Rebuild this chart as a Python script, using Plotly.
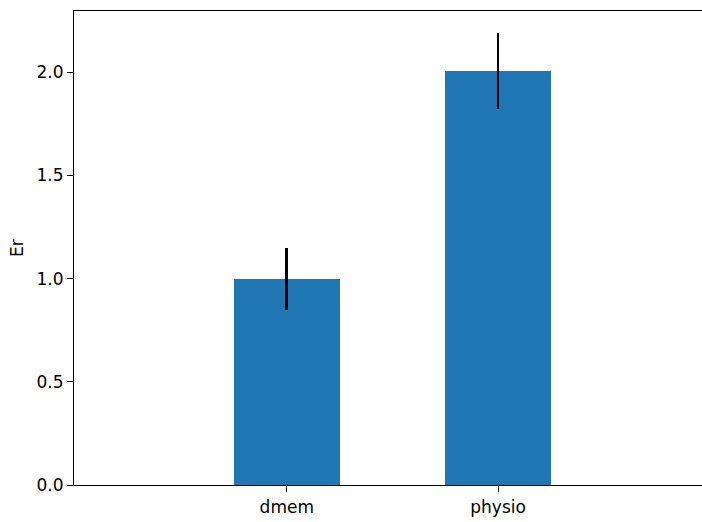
import plotly.graph_objects as go

# Mean Er per medium with its error
categories = ["dmem", "physio"]
er_mean = [1.0, 2.005]
er_err = [0.15, 0.183]
y_ticks = [0.0, 0.5, 1.0, 1.5, 2.0]

positions = list(range(len(categories)))

fig = go.Figure(
    go.Bar(
        x=positions,
        y=er_mean,
        width=0.5,
        marker=dict(color="#1f77b4", line=dict(width=0)),
        error_y=dict(type="data", array=er_err, visible=True,
                     color="black", thickness=2.6, width=0),
    )
)

font = dict(family="DejaVu Sans", size=17, color="black")

fig.update_layout(
    width=702,
    height=522,
    margin=dict(l=74, r=0, t=11, b=37, pad=0),
    paper_bgcolor="white",
    plot_bgcolor="white",
    font=font,
    showlegend=False,
    bargap=0,
)

fig.update_xaxes(
    range=[-1.007, 1.965],
    tickvals=positions,
    ticktext=categories,
    showline=True, linecolor="black", linewidth=1.2, mirror=True,
    ticks="outside", ticklen=6, tickwidth=1.2, tickcolor="black",
    showgrid=False, zeroline=False,
    tickfont=font,
)

fig.update_yaxes(
    range=[0, 2.296],
    tickvals=y_ticks,
    tickformat=".1f",
    showline=True, linecolor="black", linewidth=1.2, mirror=False,
    ticks="outside", ticklen=6, tickwidth=1.2, tickcolor="black",
    showgrid=False, zeroline=False,
    tickfont=font,
    title=dict(text="Er", font=font, standoff=8),
)

fig.write_html("out.html")
